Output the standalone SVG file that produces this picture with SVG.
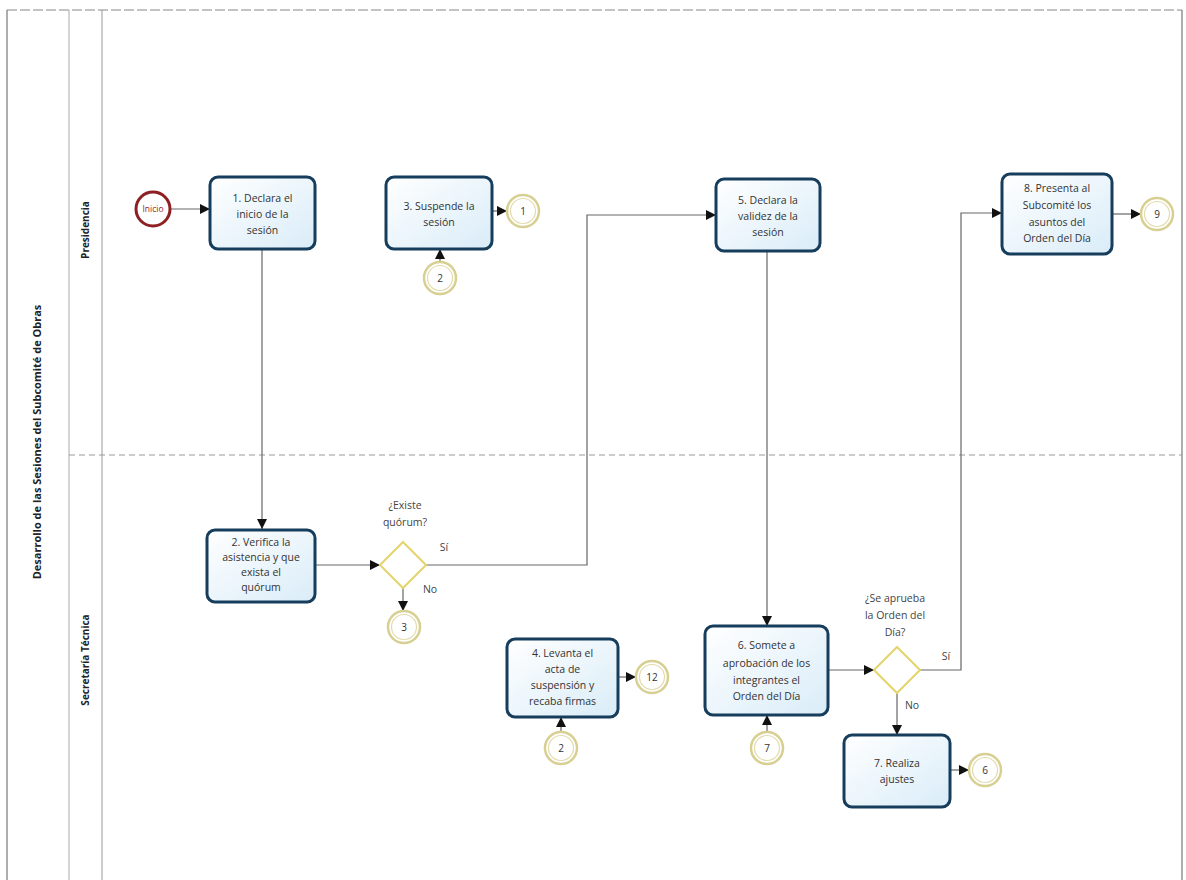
<svg xmlns="http://www.w3.org/2000/svg" width="1186" height="880" viewBox="0 0 1186 880">
<defs>
<linearGradient id="taskFill" x1="0" y1="0" x2="1" y2="1">
<stop offset="0" stop-color="#ffffff"/>
<stop offset="1" stop-color="#d9ecf8"/>
</linearGradient>
<marker id="arr" markerUnits="userSpaceOnUse" markerWidth="10" markerHeight="10" refX="10" refY="5" orient="auto">
<path d="M0,0 L10,5 L0,10 z" fill="#111"/>
</marker>
<style>
.task{fill:url(#taskFill);stroke:#173d5c;stroke-width:3}
.tt{font-family:"Open Sans","Liberation Sans",sans-serif;font-size:10.5px;fill:#333;text-anchor:middle}
.lbl{font-family:"Open Sans","Liberation Sans",sans-serif;font-size:10.5px;fill:#444;text-anchor:middle}
.ev{fill:#fff;stroke:#d8cf92;stroke-width:2.5}
.evi{fill:none;stroke:#e2dbab;stroke-width:1.2}
.evt{font-family:"Open Sans","Liberation Sans",sans-serif;font-size:10px;fill:#333;text-anchor:middle}
.gw{fill:#fff;stroke:#e4d46a;stroke-width:2}
.con{fill:none;stroke:#666;stroke-width:1.2;marker-end:url(#arr)}
.pool{fill:none;stroke:#777;stroke-width:1.2}
.lane{stroke:#999;stroke-width:1;stroke-dasharray:6 4}
.plabel{font-family:"Open Sans","Liberation Sans",sans-serif;font-weight:bold;fill:#222;text-anchor:middle}
</style>
</defs>
<rect width="1186" height="880" fill="#fff"/>

<g id="pool">
<line x1="7" y1="10" x2="1182" y2="10" stroke="#888" stroke-width="1.2" stroke-dasharray="10 3"/>
<line x1="7" y1="10" x2="7" y2="880" class="pool"/>
<line x1="69" y1="10" x2="69" y2="880" stroke="#aaa" stroke-width="1"/>
<line x1="102" y1="10" x2="102" y2="880" stroke="#999" stroke-width="1"/>
<line x1="1182" y1="10" x2="1182" y2="880" class="pool"/>
<line x1="69" y1="455" x2="1182" y2="455" class="lane"/>
<text class="plabel" font-size="11" transform="translate(41,442) rotate(-90)">Desarrollo de las Sesiones del Subcomité de Obras</text>
<text class="plabel" font-size="10" transform="translate(89,230) rotate(-90)">Presidencia</text>
<text class="plabel" font-size="10" transform="translate(89,660) rotate(-90)">Secretaría Técnica</text>
</g>

<g id="connectors">
<line x1="170" y1="209" x2="210" y2="209" class="con"/>
<line x1="262" y1="249" x2="262" y2="529" class="con"/>
<line x1="492" y1="211" x2="507" y2="211" class="con"/>
<line x1="440" y1="262" x2="440" y2="249" class="con"/>
<line x1="315" y1="565" x2="380" y2="565" class="con"/>
<line x1="403" y1="588" x2="403" y2="611" class="con"/>
<path d="M426,565 H587 V215 H716" class="con"/>
<line x1="767" y1="251" x2="767" y2="626" class="con"/>
<line x1="767" y1="732" x2="767" y2="715" class="con"/>
<line x1="828" y1="670" x2="874" y2="670" class="con"/>
<path d="M920,670 H961 V213 H1002" class="con"/>
<line x1="1112" y1="214" x2="1141" y2="214" class="con"/>
<line x1="897" y1="693" x2="897" y2="735" class="con"/>
<line x1="950" y1="770" x2="969" y2="770" class="con"/>
<line x1="618" y1="677" x2="636" y2="677" class="con"/>
<line x1="561" y1="732" x2="561" y2="717" class="con"/>
<text class="lbl" x="444" y="551">Sí</text>
<text class="lbl" x="430" y="593">No</text>
<text class="lbl" x="946" y="660">Sí</text>
<text class="lbl" x="912" y="709">No</text>
</g>

<g id="start">
<circle cx="153" cy="209" r="17" fill="#fff" stroke="#8e1f22" stroke-width="3"/>
<text x="153" y="212" font-family="Open Sans, Liberation Sans, sans-serif" font-size="8.5" fill="#9a2226" text-anchor="middle">Inicio</text>
</g>

<g id="task1">
<rect x="210" y="177" width="105" height="72" rx="8" class="task"/>
<text class="tt" x="262.5" y="202">1. Declara el</text>
<text class="tt" x="262.5" y="218">inicio de la</text>
<text class="tt" x="262.5" y="234">sesión</text>
</g>

<g id="task3">
<rect x="386" y="177" width="106" height="72" rx="8" class="task"/>
<text class="tt" x="439" y="210">3. Suspende la</text>
<text class="tt" x="439" y="226">sesión</text>
</g>

<g id="ev1">
<circle cx="523" cy="211" r="16" class="ev"/>
<circle cx="523" cy="211" r="12.5" class="evi"/>
<text class="evt" x="523" y="215">1</text>
</g>

<g id="ev2a">
<circle cx="440" cy="278" r="16" class="ev"/>
<circle cx="440" cy="278" r="12.5" class="evi"/>
<text class="evt" x="440" y="282">2</text>
</g>

<g id="task5">
<rect x="716" y="179" width="104" height="72" rx="8" class="task"/>
<text class="tt" x="768" y="204">5. Declara la</text>
<text class="tt" x="768" y="220">validez de la</text>
<text class="tt" x="768" y="236">sesión</text>
</g>

<g id="task8">
<rect x="1002" y="174" width="110" height="80" rx="8" class="task"/>
<text class="tt" x="1057" y="192">8. Presenta al</text>
<text class="tt" x="1057" y="209">Subcomité los</text>
<text class="tt" x="1057" y="226">asuntos del</text>
<text class="tt" x="1057" y="242">Orden del Día</text>
</g>

<g id="ev9">
<circle cx="1157" cy="214" r="16" class="ev"/>
<circle cx="1157" cy="214" r="12.5" class="evi"/>
<text class="evt" x="1157" y="218">9</text>
</g>

<g id="task2">
<rect x="207" y="530" width="108" height="72" rx="8" class="task"/>
<text class="tt" x="261" y="546">2. Verifica la</text>
<text class="tt" x="261" y="561">asistencia y que</text>
<text class="tt" x="261" y="576">exista el</text>
<text class="tt" x="261" y="591">quórum</text>
</g>

<g id="gw1">
<polygon points="403,542 426,565 403,588 380,565" class="gw"/>
<text class="lbl" x="405" y="509">¿Existe</text>
<text class="lbl" x="405" y="526">quórum?</text>
</g>

<g id="ev3">
<circle cx="404" cy="627" r="16" class="ev"/>
<circle cx="404" cy="627" r="12.5" class="evi"/>
<text class="evt" x="404" y="631">3</text>
</g>

<g id="task4">
<rect x="507" y="639" width="111" height="78" rx="8" class="task"/>
<text class="tt" x="562.5" y="657">4. Levanta el</text>
<text class="tt" x="562.5" y="673">acta de</text>
<text class="tt" x="562.5" y="689">suspensión y</text>
<text class="tt" x="562.5" y="705">recaba firmas</text>
</g>

<g id="ev12">
<circle cx="652" cy="677" r="16" class="ev"/>
<circle cx="652" cy="677" r="12.5" class="evi"/>
<text class="evt" x="652" y="681">12</text>
</g>

<g id="ev2b">
<circle cx="561" cy="748" r="16" class="ev"/>
<circle cx="561" cy="748" r="12.5" class="evi"/>
<text class="evt" x="561" y="752">2</text>
</g>

<g id="task6">
<rect x="705" y="626" width="123" height="89" rx="8" class="task"/>
<text class="tt" x="766.5" y="649">6. Somete a</text>
<text class="tt" x="766.5" y="667">aprobación de los</text>
<text class="tt" x="766.5" y="684">integrantes el</text>
<text class="tt" x="766.5" y="700">Orden del Día</text>
</g>

<g id="ev7">
<circle cx="767" cy="748" r="16" class="ev"/>
<circle cx="767" cy="748" r="12.5" class="evi"/>
<text class="evt" x="767" y="752">7</text>
</g>

<g id="gw2">
<polygon points="897,647 920,670 897,693 874,670" class="gw"/>
<text class="lbl" x="895" y="602">¿Se aprueba</text>
<text class="lbl" x="895" y="619">la Orden del</text>
<text class="lbl" x="895" y="636">Día?</text>
</g>

<g id="task7">
<rect x="844" y="735" width="106" height="72" rx="8" class="task"/>
<text class="tt" x="897" y="767">7. Realiza</text>
<text class="tt" x="897" y="783">ajustes</text>
</g>

<g id="ev6">
<circle cx="985" cy="770" r="16" class="ev"/>
<circle cx="985" cy="770" r="12.5" class="evi"/>
<text class="evt" x="985" y="774">6</text>
</g>
</svg>
